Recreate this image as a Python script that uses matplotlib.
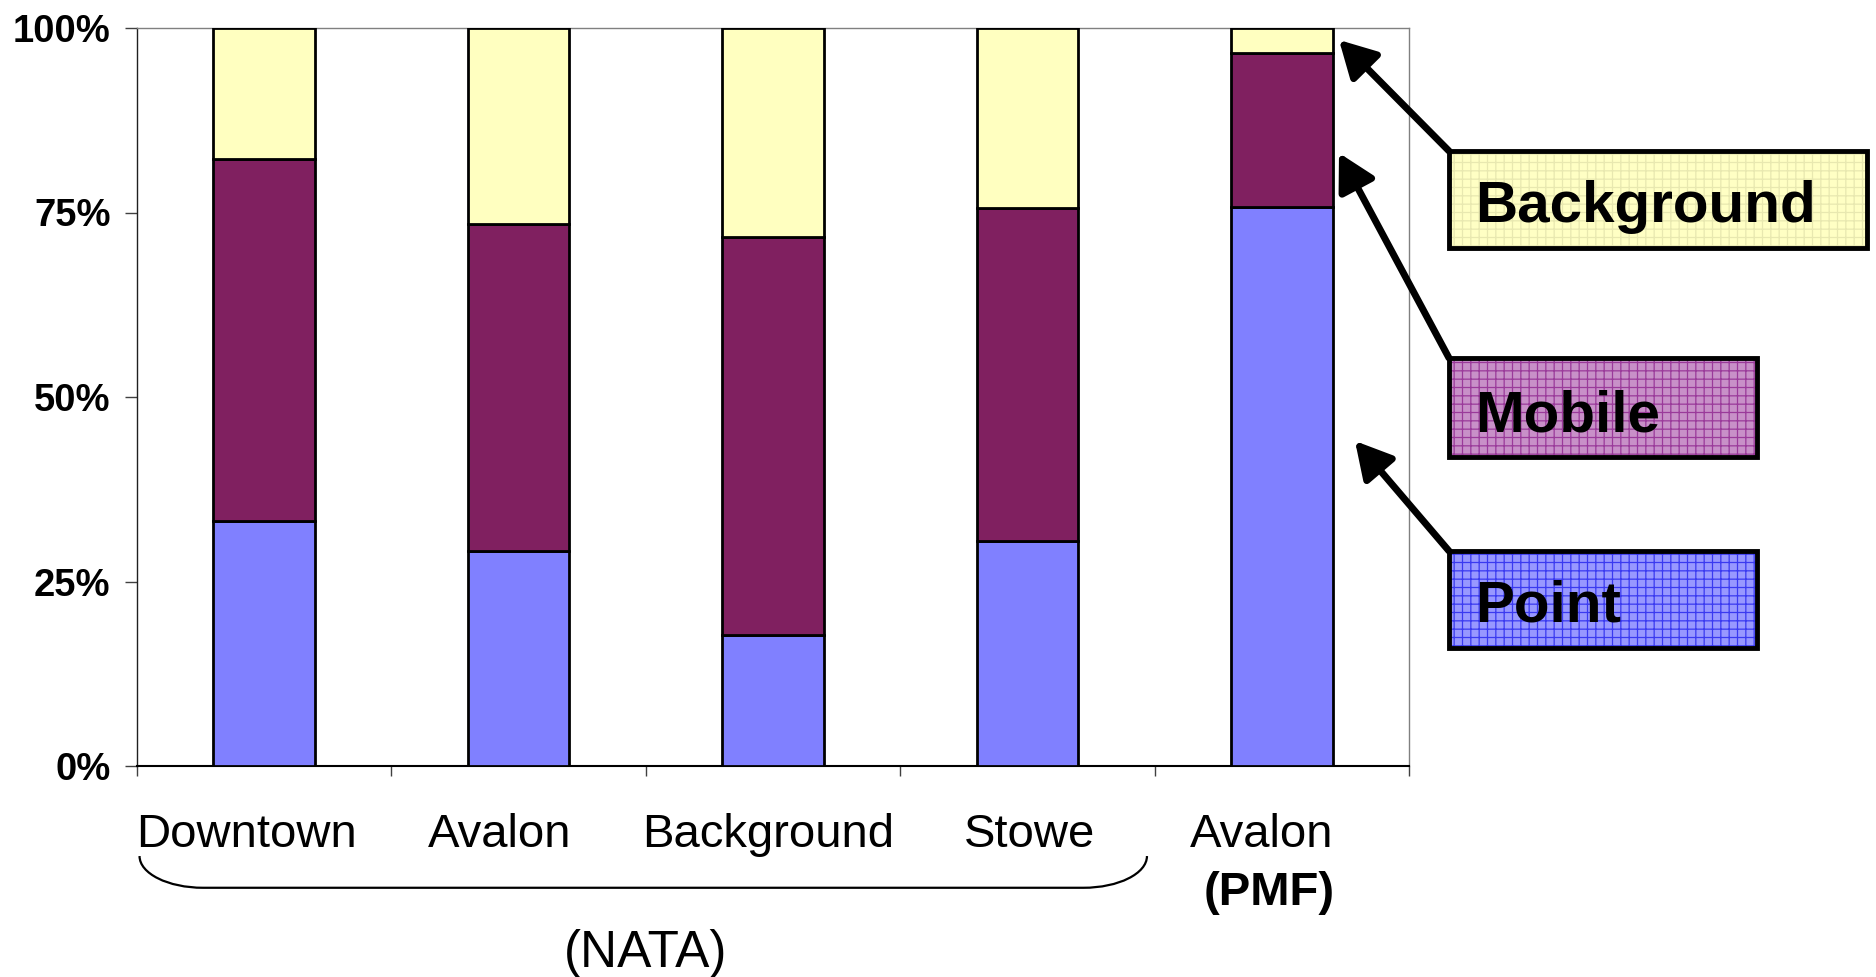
import matplotlib
matplotlib.use('Agg')
import matplotlib.pyplot as plt
from matplotlib.patches import Rectangle, PathPatch
from matplotlib.path import Path
import numpy as np

plt.rcParams['font.family'] = ['Liberation Sans', 'DejaVu Sans']
plt.rcParams['hatch.linewidth'] = 0.9

# source apportionment, percent of total
sites = ['Downtown', 'Avalon', 'Background', 'Stowe', 'Avalon']
point = [33.2, 29.1, 17.8, 30.5, 75.7]
mobile = [49.0, 44.3, 53.9, 45.1, 20.9]
background = [17.8, 26.6, 28.3, 24.4, 3.4]
yticks = [0, 25, 50, 75, 100]
ytick_labels = ['0%', '25%', '50%', '75%', '100%']

colors = {'Point': '#8080FF', 'Mobile': '#802060', 'Background': '#FFFFC0'}

W, H = 1876, 977
fig = plt.figure(figsize=(W / 100, H / 100), dpi=100)
ax = fig.add_axes([137 / W, 1 - 766 / H, (1409 - 137) / W, (766 - 28) / H])

x = np.arange(len(sites))
bottom = np.zeros(len(sites))
for name, vals in [('Point', point), ('Mobile', mobile), ('Background', background)]:
    ax.bar(x, vals, width=0.4, bottom=bottom, color=colors[name],
           edgecolor='black', linewidth=2.0, zorder=3)
    bottom += np.array(vals)

ax.set_xlim(-0.5, len(sites) - 0.5)
ax.set_ylim(0, 100)
ax.set_yticks(yticks)
ax.set_yticklabels(ytick_labels, fontsize=27.5, fontweight='bold')
ax.tick_params(axis='y', direction='out', length=9, width=1, color='#404040', pad=10)
ax.set_xticks([])
ax.set_xticks(np.arange(-0.5, len(sites)), minor=True)
ax.tick_params(axis='x', which='minor', direction='out', length=7, width=1, color='#404040')

for side in ['top', 'right']:
    ax.spines[side].set_color('#808080')
    ax.spines[side].set_linewidth(1.0)
ax.spines['left'].set_color('#202020')
ax.spines['left'].set_linewidth(1.0)
ax.spines['bottom'].set_color('black')
ax.spines['bottom'].set_linewidth(1.5)

# category labels (manually placed in the original, slightly off-centre)
tr = ax.get_xaxis_transform()
label_shift = [-0.07, -0.075, -0.02, 0.01, -0.08]
for i, lab in enumerate(sites):
    ax.text(i + label_shift[i], -0.11, lab, transform=tr, ha='center', va='baseline',
            fontsize=34, clip_on=False)
ax.text(len(sites) - 1 - 0.05, -0.188, '(PMF)', transform=tr, ha='center', va='baseline',
        fontsize=34, fontweight='bold', clip_on=False)
ax.text(1.5, -0.272, '(NATA)', transform=tr, ha='center', va='baseline',
        fontsize=37, clip_on=False)

# brace under the NATA sites
x0, x1, r = -0.49, 3.47, 0.25
yt, yb = -0.122, -0.165
k = 0.5523
h = yt - yb
verts = [(x0, yt), (x0, yt - k * h), (x0 + r - k * r, yb), (x0 + r, yb),
         (x1 - r, yb),
         (x1 - r + k * r, yb), (x1, yt - k * h), (x1, yt)]
codes = [Path.MOVETO, Path.CURVE4, Path.CURVE4, Path.CURVE4,
         Path.LINETO,
         Path.CURVE4, Path.CURVE4, Path.CURVE4]
ax.add_patch(PathPatch(Path(verts, codes), transform=tr, fill=False,
                       edgecolor='black', linewidth=1.6, clip_on=False))


def fig_xy(px, py):
    return px / W, 1 - py / H


# callout boxes with arrows
callouts = [
    ('Background', (1449, 151, 1867, 248), (1339, 40), '#FFFFC4', '#E8E8B0'),
    ('Mobile', (1449, 358, 1757, 457), (1339, 153), '#C890C8', '#9A3A9A'),
    ('Point', (1449, 551, 1757, 648), (1355, 441), '#9898FF', '#3A3AF0'),
]
for label, (bx0, by0, bx1, by1), tip, fill, hatch_col in callouts:
    llx, lly = fig_xy(bx0, by1)
    bw, bh = (bx1 - bx0) / W, (by1 - by0) / H
    fig.patches.append(Rectangle((llx, lly), bw, bh, transform=fig.transFigure,
                                 facecolor=fill, edgecolor=hatch_col, hatch='++',
                                 linewidth=0, zorder=5))
    fig.patches.append(Rectangle((llx, lly), bw, bh, transform=fig.transFigure,
                                 facecolor='none', edgecolor='black',
                                 linewidth=3.5, zorder=6))
    tx, ty = fig_xy(bx0 + 26, by1 - 26)
    fig.text(tx, ty, label, fontsize=42, fontweight='bold', ha='left',
             va='baseline', zorder=7)
    ax.annotate('', xy=(tip[0], H - tip[1]), xytext=(bx0, H - by0),
                xycoords='figure pixels', textcoords='figure pixels',
                arrowprops=dict(arrowstyle='-|>,head_length=1.0,head_width=0.55',
                                mutation_scale=22, lw=5, color='black',
                                shrinkA=0, shrinkB=0),
                annotation_clip=False)

fig.savefig('out.png', dpi=100)
